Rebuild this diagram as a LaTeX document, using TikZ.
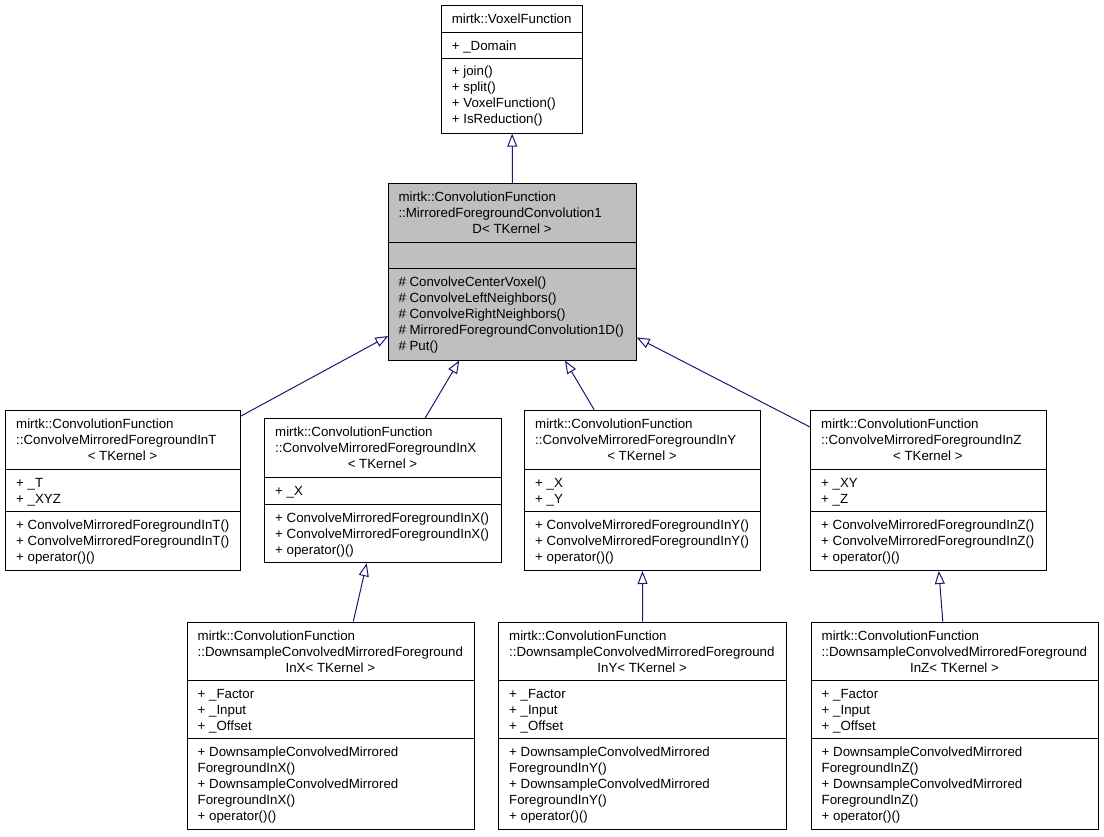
\documentclass[tikz,border=0pt]{standalone}
\usepackage{fontspec}
\setmainfont{Liberation Sans}
\usetikzlibrary{arrows.meta}
\definecolor{edgeblue}{HTML}{191970}
\definecolor{mainfill}{HTML}{BFBFBF}
\newcommand\Lines[4]{%
  \foreach \s [count=\k from 0] in {#4} {\node[lbl] (#1\k) at (#2, #3+16*\k) {\s};}}
\begin{document}
\begin{tikzpicture}[x=1pt,y=-1pt,
  cls/.style={draw=black, line width=1pt, fill=white, inner sep=0pt, anchor=north west},
  lbl/.style={anchor=base west, inner sep=0pt, font=\fontsize{13.3}{16}\selectfont},
  clbl/.style={anchor=base, inner sep=0pt, font=\fontsize{13.3}{16}\selectfont},
  sep/.style={draw=black, line width=1pt},
  inh/.style={draw=edgeblue, line width=1pt, -{Triangle[open, length=13pt, width=10pt, fill=white]}}]
\useasboundingbox (0,0) rectangle (1104,837);

% ---- top class
\node[cls, minimum width=141.3pt, minimum height=127.7pt] (top) at (441,5) {};
\draw[sep] (top.west |- 0,32.3) -- (top.east |- 0,32.3);
\draw[sep] (top.west |- 0,58.3) -- (top.east |- 0,58.3);
\node[clbl] (topT) at (511.65,23.5) {mirtk::VoxelFunction};
\Lines{topA}{451.7}{50.3}{+ \_Domain}
\Lines{topM}{451.7}{76}{+ join(), + split(), + VoxelFunction(), + IsReduction()}

% ---- main class
\node[cls, fill=mainfill, minimum width=247.4pt, minimum height=176.2pt] (main) at (388.3,183.3) {};
\draw[sep] (main.west |- 0,242.3) -- (main.east |- 0,242.3);
\draw[sep] (main.west |- 0,268.3) -- (main.east |- 0,268.3);
\Lines{mainT}{398.3}{202}{mirtk::ConvolutionFunction, ::MirroredForegroundConvolution1}
\node[clbl] (mainTc) at (512,234) {D< TKernel >};
\Lines{mainM}{398.3}{286.3}{\# ConvolveCenterVoxel(), \# ConvolveLeftNeighbors(), \# ConvolveRightNeighbors(), \# MirroredForegroundConvolution1D(), \# Put()}

% ---- T
\node[cls, minimum width=235pt, minimum height=160pt] (T) at (5,410) {};
\draw[sep] (T.west |- 0,469) -- (T.east |- 0,469);
\draw[sep] (T.west |- 0,511.7) -- (T.east |- 0,511.7);
\Lines{TT}{16}{428.5}{mirtk::ConvolutionFunction, ::ConvolveMirroredForegroundInT}
\node[clbl] (TTc) at (122.5,460.5) {< TKernel >};
\Lines{TA}{16}{487}{+ \_T, + \_XYZ}
\Lines{TM}{16}{529.5}{+ ConvolveMirroredForegroundInT(), + ConvolveMirroredForegroundInT(), + operator()()}

% ---- X
\node[cls, minimum width=236.4pt, minimum height=144pt] (X) at (264.3,418.3) {};
\draw[sep] (X.west |- 0,477.3) -- (X.east |- 0,477.3);
\draw[sep] (X.west |- 0,504.3) -- (X.east |- 0,504.3);
\Lines{XT}{275}{436.8}{mirtk::ConvolutionFunction, ::ConvolveMirroredForegroundInX}
\node[clbl] (XTc) at (382.5,468.8) {< TKernel >};
\Lines{XA}{275}{495.3}{+ \_X}
\Lines{XM}{275}{522}{+ ConvolveMirroredForegroundInX(), + ConvolveMirroredForegroundInX(), + operator()()}

% ---- Y
\node[cls, minimum width=236pt, minimum height=160pt] (Y) at (524,410) {};
\draw[sep] (Y.west |- 0,469) -- (Y.east |- 0,469);
\draw[sep] (Y.west |- 0,511.7) -- (Y.east |- 0,511.7);
\Lines{YT}{535}{428.5}{mirtk::ConvolutionFunction, ::ConvolveMirroredForegroundInY}
\node[clbl] (YTc) at (642,460.5) {< TKernel >};
\Lines{YA}{535}{487}{+ \_X, + \_Y}
\Lines{YM}{535}{529.5}{+ ConvolveMirroredForegroundInY(), + ConvolveMirroredForegroundInY(), + operator()()}

% ---- Z
\node[cls, minimum width=235.7pt, minimum height=160pt] (Z) at (810,410) {};
\draw[sep] (Z.west |- 0,469) -- (Z.east |- 0,469);
\draw[sep] (Z.west |- 0,511.7) -- (Z.east |- 0,511.7);
\Lines{ZT}{821}{428.5}{mirtk::ConvolutionFunction, ::ConvolveMirroredForegroundInZ}
\node[clbl] (ZTc) at (927.85,460.5) {< TKernel >};
\Lines{ZA}{821}{487}{+ \_XY, + \_Z}
\Lines{ZM}{821}{529.5}{+ ConvolveMirroredForegroundInZ(), + ConvolveMirroredForegroundInZ(), + operator()()}

% ---- DX
\node[cls, minimum width=287.3pt, minimum height=207.5pt] (DX) at (186.7,621.5) {};
\draw[sep] (DX.west |- 0,680) -- (DX.east |- 0,680);
\draw[sep] (DX.west |- 0,738.3) -- (DX.east |- 0,738.3);
\Lines{DXT}{197.5}{640}{mirtk::ConvolutionFunction, ::DownsampleConvolvedMirroredForeground}
\node[clbl] (DXTc) at (330.35,672) {InX< TKernel >};
\Lines{DXA}{197.5}{698}{+ \_Factor, + \_Input, + \_Offset}
\Lines{DXM}{197.5}{756}{+ DownsampleConvolvedMirrored, ForegroundInX(), + DownsampleConvolvedMirrored, ForegroundInX(), + operator()()}

% ---- DY
\node[cls, minimum width=287.7pt, minimum height=207.5pt] (DY) at (498.3,621.5) {};
\draw[sep] (DY.west |- 0,680) -- (DY.east |- 0,680);
\draw[sep] (DY.west |- 0,738.3) -- (DY.east |- 0,738.3);
\Lines{DYT}{509}{640}{mirtk::ConvolutionFunction, ::DownsampleConvolvedMirroredForeground}
\node[clbl] (DYTc) at (642.15,672) {InY< TKernel >};
\Lines{DYA}{509}{698}{+ \_Factor, + \_Input, + \_Offset}
\Lines{DYM}{509}{756}{+ DownsampleConvolvedMirrored, ForegroundInY(), + DownsampleConvolvedMirrored, ForegroundInY(), + operator()()}

% ---- DZ
\node[cls, minimum width=287.6pt, minimum height=207.5pt] (DZ) at (810.7,621.5) {};
\draw[sep] (DZ.west |- 0,680) -- (DZ.east |- 0,680);
\draw[sep] (DZ.west |- 0,738.3) -- (DZ.east |- 0,738.3);
\Lines{DZT}{821.5}{640}{mirtk::ConvolutionFunction, ::DownsampleConvolvedMirroredForeground}
\node[clbl] (DZTc) at (954.5,672) {InZ< TKernel >};
\Lines{DZA}{821.5}{698}{+ \_Factor, + \_Input, + \_Offset}
\Lines{DZM}{821.5}{756}{+ DownsampleConvolvedMirrored, ForegroundInZ(), + DownsampleConvolvedMirrored, ForegroundInZ(), + operator()()}

% ---- inheritance edges
\draw[inh] (main.north) -- (top.south);
\draw[inh] ([yshift=-6pt]T.north east) -- ([yshift=24.5pt]main.south west);
\draw[inh] ([xshift=160.7pt]X.north west) -- ([xshift=71pt]main.south west);
\draw[inh] ([xshift=70.3pt]Y.north west) -- ([xshift=176.7pt]main.south west);
\draw[inh] ([yshift=-17pt]Z.north west) -- ([yshift=23pt]main.south east);
\draw[inh] ([xshift=166.6pt]DX.north west) -- ([xshift=102.4pt]X.south west);
\draw[inh] (DY.north) -- (Y.south);
\draw[inh] ([xshift=-12.2pt]DZ.north) -- ([xshift=10.5pt]Z.south);
\end{tikzpicture}
\end{document}
